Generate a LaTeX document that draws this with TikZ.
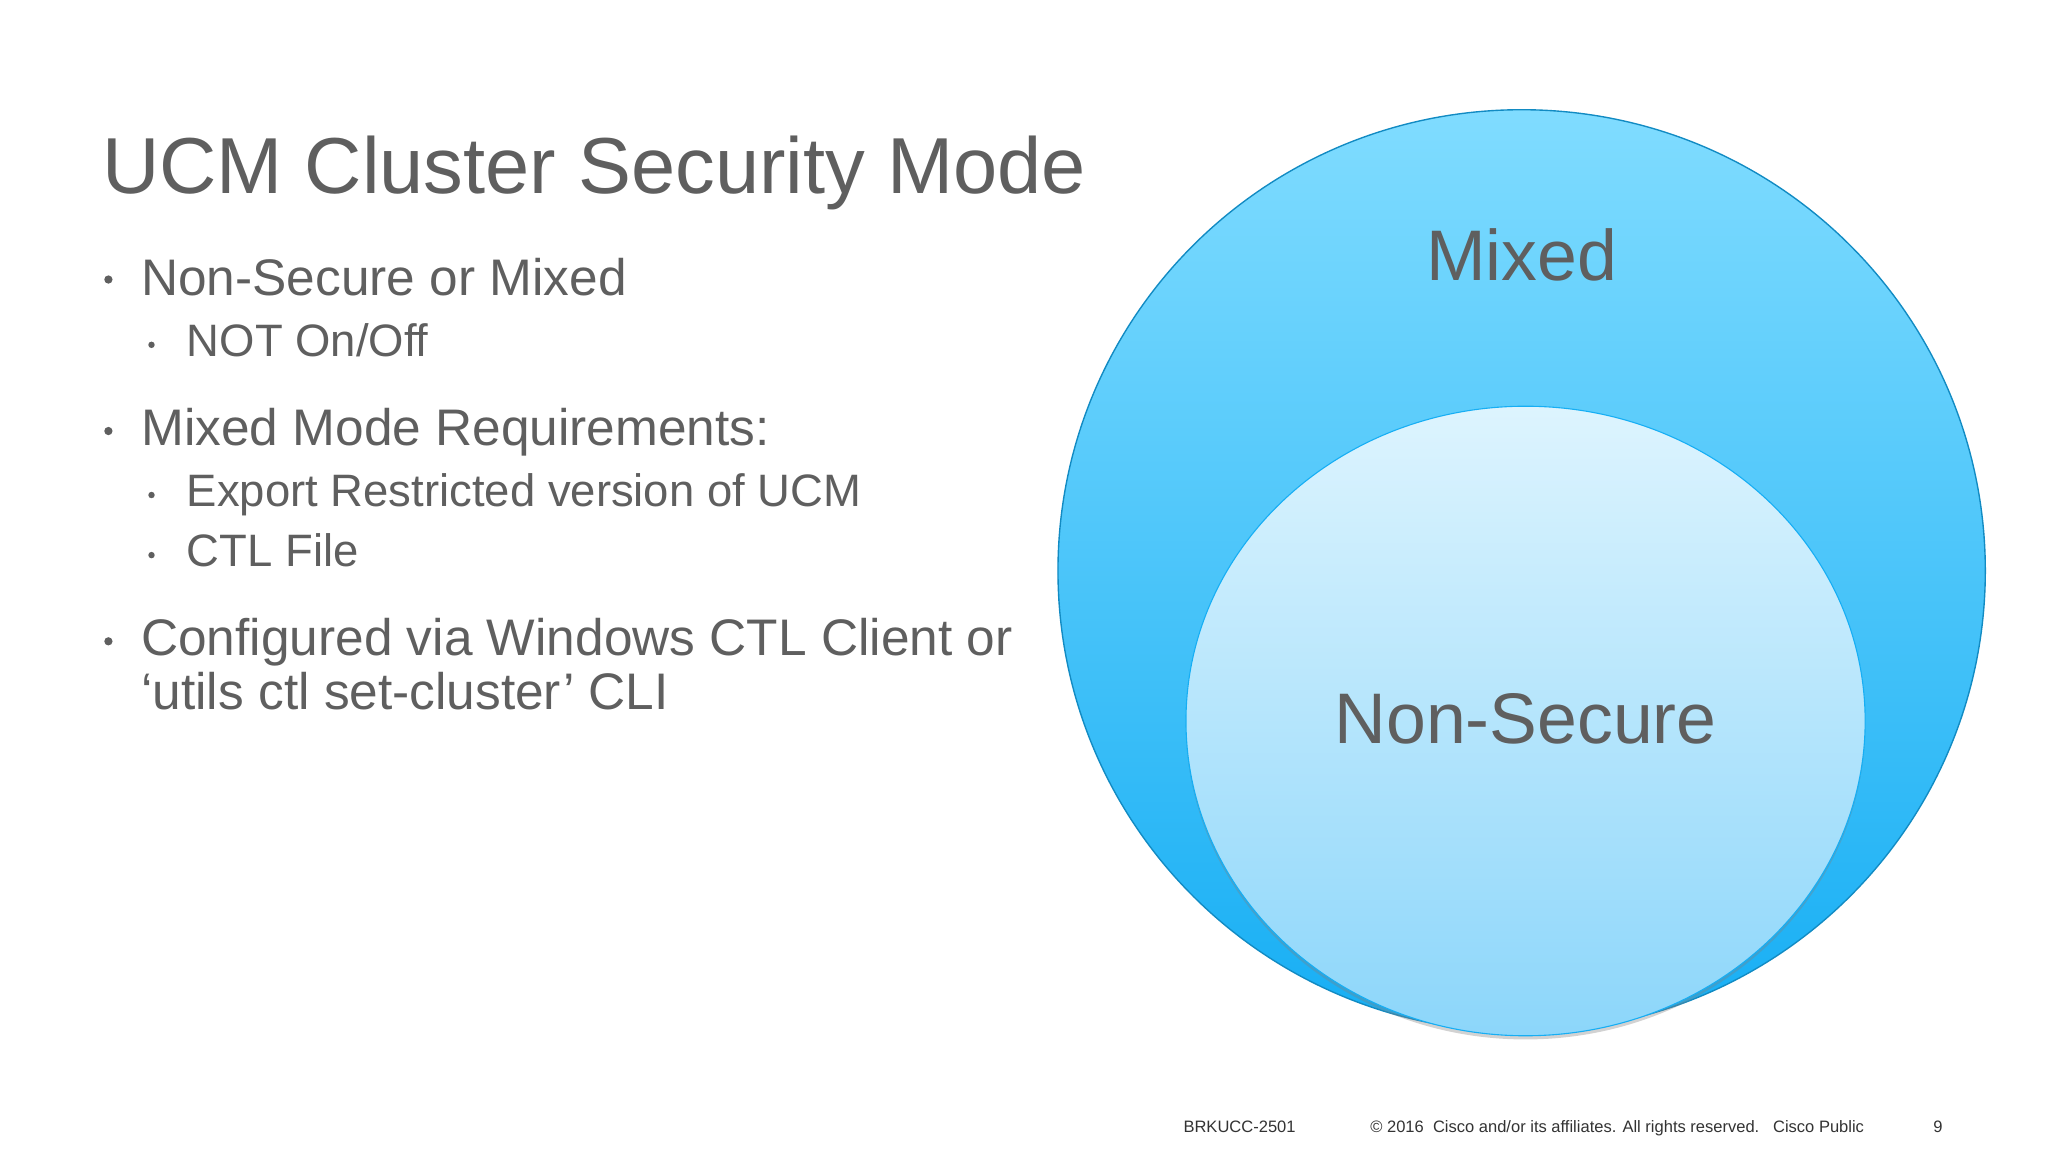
\documentclass[tikz,border=0pt]{standalone}
\usepackage{fontspec}
\setmainfont{Liberation Sans}
\usetikzlibrary{shadows}
\definecolor{txt}{HTML}{5F5F5F}
\definecolor{otop}{HTML}{80DCFF}
\definecolor{obot}{HTML}{16AEF4}
\definecolor{itop}{HTML}{DDF4FE}
\definecolor{ibot}{HTML}{8CD6FA}
\tikzset{
 lbl/.style={anchor=base west,inner sep=0pt,text=txt},
 big/.style={lbl,font=\fontsize{56pt}{60pt}\selectfont},
 small/.style={lbl,font=\fontsize{49.5pt}{52pt}\selectfont},
 foot/.style={lbl,text=black!80,font=\fontsize{18pt}{20pt}\selectfont},
 dot/.style={circle,fill=txt,inner sep=0pt,minimum size=#1}
}
\begin{document}
\begin{tikzpicture}[x=0.05cm,y=-0.05cm]
\useasboundingbox[fill=white] (0,0) rectangle (1568,882);
\node[lbl,font=\fontsize{86.5pt}{92pt}\selectfont] (title) at (78,148) {UCM Cluster Security Mode};
\node[dot=9pt] (b1) at (83,214) {};
\node[big] (t1) at (108,226) {Non-Secure or Mixed};
\node[dot=7pt] (b2) at (116,264) {};
\node[small] (t2) at (143,273) {NOT On/Off};
\node[dot=9pt] (b3) at (83,330) {};
\node[big] (t3) at (108,341) {Mixed Mode Requirements:};
\node[dot=7pt] (b4) at (116,379) {};
\node[small] (t4) at (143,388) {Export Restricted version of UCM};
\node[dot=7pt] (b5) at (116,425) {};
\node[small] (t5) at (143,434) {CTL File};
\node[dot=9pt] (b6) at (83,491) {};
\node[big] (t6) at (108,502) {Configured via Windows CTL Client or};
\node[big] (t7) at (108,543) {‘utils ctl set-cluster’ CLI};
\draw[draw=obot!80!black,line width=1.5pt,top color=otop,bottom color=obot] (1165,437) ellipse [x radius=355,y radius=353];
\draw[draw=obot,line width=1.2pt,top color=itop,bottom color=ibot,drop shadow={shadow xshift=0pt,shadow yshift=-4pt,opacity=0.35}] (1168,552) ellipse [x radius=260,y radius=241];
\node[text=txt,font=\fontsize{78pt}{84pt}\selectfont] (mixed) at (1165,195) {Mixed};
\node[text=txt,font=\fontsize{78pt}{84pt}\selectfont] (ns) at (1168,550) {Non-Secure};
\node[foot] (f1) at (906,867) {BRKUCC-2501};
\node[foot] (f2) at (1049,867) {© 2016\ \ Cisco and/or its affiliates. All rights reserved.\ \ \ Cisco Public};
\node[foot] (f3) at (1480,867) {9};
\end{tikzpicture}
\end{document}
